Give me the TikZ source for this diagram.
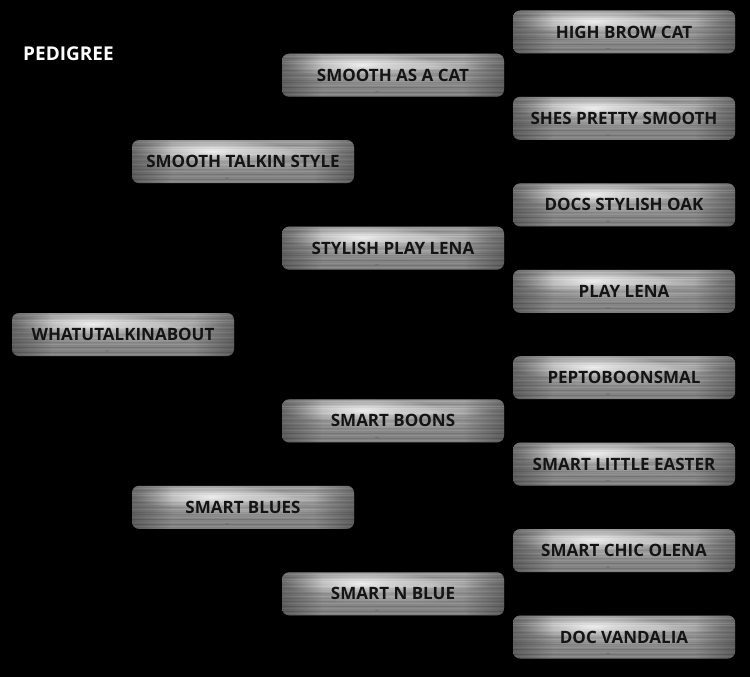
\documentclass[tikz,border=0pt]{standalone}
\usepackage{fontspec}
\newfontfamily\platefont{Open Sans}
\usetikzlibrary{fadings,calc}
\definecolor{platetext}{HTML}{141414}
\tikzfading[name=glowfade, inner color=transparent!5, outer color=transparent!100]
\tikzset{
  plate/.style={rounded corners=7pt, minimum width=222pt, minimum height=43pt, inner sep=0pt,
    font=\platefont\bfseries\fontsize{17}{20}\selectfont, text=platetext,
    top color=black!40, middle color=black!22, bottom color=black!50,
    path picture={
      \coordinate (pnw) at (path picture bounding box.north west);
      \foreach \yy/\gg/\oo in {2.5/white/0.15, 5/black/0.08, 7.5/white/0.2, 9.5/white/0.18, 12/black/0.06,
          14.5/white/0.12, 16.5/black/0.08, 19/white/0.1, 21.5/black/0.06, 24/white/0.12, 26.5/black/0.08,
          29/black/0.1, 31.5/white/0.1, 34/black/0.12, 36.5/white/0.08, 39/black/0.12, 41/white/0.1}
        \draw[\gg, opacity=\oo, line width=0.9pt] ($(pnw)+(0,\yy)$) -- ($(pnw)+(222,\yy)$);
      \fill[white, path fading=glowfade, opacity=0.9] ($(pnw)+(80,11)$) ellipse (80pt and 12pt);
      \fill[white, path fading=glowfade, opacity=0.45] ($(pnw)+(150,12)$) ellipse (60pt and 7pt);
      \fill[white, path fading=glowfade, opacity=0.25] ($(pnw)+(111,25)$) ellipse (95pt and 6pt);
      \fill[black, opacity=0.3, path fading=east] ($(pnw)+(0,0)$) rectangle ($(pnw)+(40,43)$);
      \fill[black, opacity=0.3, path fading=west] ($(pnw)+(182,0)$) rectangle ($(pnw)+(222,43)$);
      \fill[black!60, opacity=0.5] ($(pnw)+(95,38)$) ellipse (2pt and 0.8pt);
    }},
  title/.style={font=\platefont\bfseries\fontsize{19}{22}\selectfont, text=white, anchor=base west, inner sep=0pt}
}
\begin{document}
\begin{tikzpicture}[x=1pt, y=-1pt]
\fill[black] (0,0) rectangle (750,677);
\useasboundingbox (0,0) rectangle (750,677);
\node[title] (title) at (23,61) {PEDIGREE};
% column 1
\node[plate] (c1) at (123,334.5) {WHATUTALKINABOUT};
% column 2
\node[plate] (c2a) at (243,161.6) {SMOOTH TALKIN STYLE};
\node[plate] (c2b) at (243,507.3) {SMART BLUES};
% column 3
\node[plate] (c3a) at (393,75.2) {SMOOTH AS A CAT};
\node[plate] (c3b) at (393,248.1) {STYLISH PLAY LENA};
\node[plate] (c3c) at (393,420.9) {SMART BOONS};
\node[plate] (c3d) at (393,593.8) {SMART N BLUE};
% column 4
\node[plate] (c4a) at (624,32) {HIGH BROW CAT};
\node[plate] (c4b) at (624,118.4) {SHES PRETTY SMOOTH};
\node[plate] (c4c) at (624,204.9) {DOCS STYLISH OAK};
\node[plate] (c4d) at (624,291.3) {PLAY LENA};
\node[plate] (c4e) at (624,377.7) {PEPTOBOONSMAL};
\node[plate] (c4f) at (624,464.1) {SMART LITTLE EASTER};
\node[plate] (c4g) at (624,550.6) {SMART CHIC OLENA};
\node[plate] (c4h) at (624,637) {DOC VANDALIA};
\end{tikzpicture}
\end{document}
